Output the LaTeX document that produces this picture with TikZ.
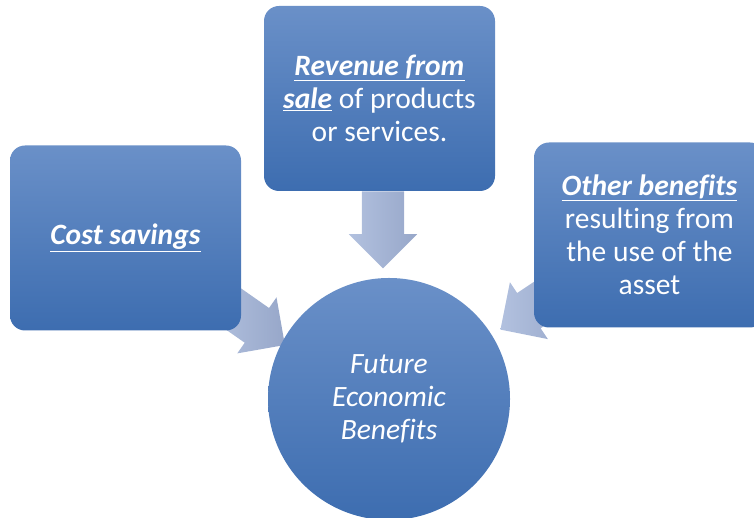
\documentclass[tikz,border=0pt]{standalone}
\usepackage{fontspec}
\setmainfont{Carlito}[Ligatures=NoCommon]
\usetikzlibrary{shapes.arrows,calc,backgrounds}
\definecolor{boxtop}{HTML}{6A90C8}
\definecolor{boxbot}{HTML}{3D6DB0}
\definecolor{arrtop}{HTML}{B2C1DF}
\definecolor{arrbot}{HTML}{97A7C9}
\newcommand{\keyword}[1]{\underline{\textbf{\textit{#1}}}}
\begin{document}
\begin{tikzpicture}[x=1pt,y=1pt,
  box/.style={rectangle, rounded corners=15pt, minimum width=231pt, minimum height=185pt,
    top color=boxtop, bottom color=boxbot, text=white, align=center, inner sep=0pt,
    font=\fontsize{29.5}{33}\selectfont},
  hub/.style={circle, minimum size=242pt, top color=boxtop, bottom color=boxbot,
    text=white, align=center, inner sep=0pt, font=\fontsize{29.5}{33}\selectfont\itshape},
  bigarrow/.style={single arrow, minimum height=77pt, minimum width=68pt,
    single arrow head extend=13pt, single arrow head indent=0pt,
    inner xsep=0pt, inner ysep=21pt,
    left color=arrtop, right color=arrbot}]
\useasboundingbox (0,0) rectangle (754,518);
\node[hub] (benefits) at (389,119) {Future\\Economic\\Benefits};
\node[box] (cost) at (125.5,280) {\keyword{Cost savings}};
\node[box] (revenue) at (379.5,419.5) {\keyword{Revenue from}\\\keyword{sale} of products\\or services.};
\node[box] (other) at (649.5,283) {\keyword{Other benefits}\\resulting from\\the use of the\\asset};
% arrows go under the boxes
\begin{scope}[on background layer]
  \node[bigarrow, rotate=-90, anchor=tail] (fromrevenue) at ($(revenue.south)+(3.5,0)$) {};
  \node[bigarrow, rotate=-35, anchor=tip] (fromcost) at ($(benefits.center)+(152.6:117)$) {};
  \node[bigarrow, rotate=213.7, anchor=tip] (fromother) at ($(benefits.center)+(31.9:131)$) {};
\end{scope}
\end{tikzpicture}
\end{document}
